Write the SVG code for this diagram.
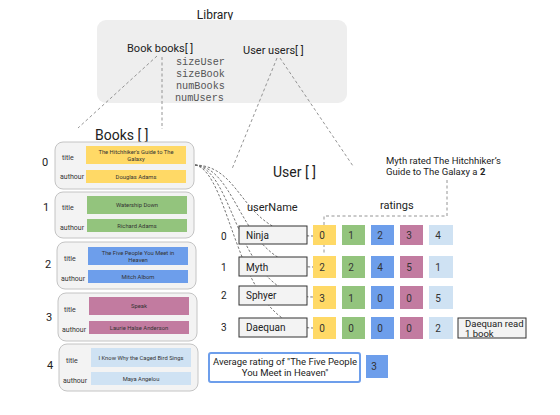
<svg xmlns="http://www.w3.org/2000/svg" width="560" height="415" viewBox="0 0 560 415">
<style>
text{font-family:Roboto,"Liberation Sans",sans-serif;fill:#222}
.t12{font-size:12px}
.t11{font-size:11px}
.t14{font-size:14px}
.t10{font-size:10px}
.t9{font-size:9.5px}
.lab{font-size:7px;fill:#333}
.fld{font-size:5.8px;text-anchor:middle;fill:#333}
.mono{font-family:"Liberation Mono","DejaVu Sans Mono",monospace;font-size:10.2px;fill:#555}
.mid{text-anchor:middle}
.book{fill:#f3f3f3;stroke:#c4c4c4;stroke-width:1}
.name{fill:#f3f3f3;stroke:#333;stroke-width:1}
.y{fill:#ffd966}.g{fill:#93c47d}.b{fill:#6d9eeb}.p{fill:#c27ba0}.lb{fill:#cfe2f3}
.dash{fill:none;stroke:#888;stroke-width:0.9;stroke-dasharray:3,2.5}
.dash2{fill:none;stroke:#666;stroke-width:0.9;stroke-dasharray:2.5,1.8}
.num{font-size:10px;text-anchor:middle;fill:#333}
</style>

<g id="library">
  <text class="t12 mid" x="215" y="19">Library</text>
  <rect x="97" y="20" width="250" height="83" rx="9" fill="#eeeeee"/>
  <text class="t11" x="127" y="52">Book books[ ]</text>
  <text class="t11" x="243" y="54">User users[ ]</text>
  <text class="mono" x="176" y="65">sizeUser</text>
  <text class="mono" x="176" y="77">sizeBook</text>
  <text class="mono" x="176" y="89">numBooks</text>
  <text class="mono" x="175" y="101">numUsers</text>
</g>

<g id="connectors">
  <path class="dash" d="M157,56 L78,128"/>
  <path class="dash" d="M162,57 L162,129"/>
  <path class="dash" d="M277,58 L232,169"/>
  <path class="dash" d="M280,58 L353,166"/>
  <path class="dash" d="M447,180 L447,216 L324,216 L324,255"/>
  <path class="dash2" d="M195,165 C245,166 240,236 313,236"/>
  <path class="dash2" d="M195,165 C240,168 240,267 313,267"/>
  <path class="dash2" d="M195,165 C236,170 236,297 313,297"/>
  <path class="dash2" d="M195,165 C232,172 236,328 313,328"/>
</g>

<g id="books">
  <text class="t14" x="95" y="140">Books [ ]</text>
  <g id="book0">
    <text class="t11" x="42" y="166">0</text>
    <rect class="book" x="55" y="142" width="139" height="47" rx="8"/>
    <text class="lab" x="62" y="160">title</text>
    <text class="lab" x="60" y="179">authour</text>
    <rect class="y" x="86" y="146" width="100" height="18"/>
    <text class="fld" x="136" y="153.5">The Hitchhiker's Guide to The</text>
    <text class="fld" x="136" y="161">Galaxy</text>
    <rect class="y" x="86" y="170" width="100" height="13"/>
    <text class="fld" x="136" y="178.5">Douglas Adams</text>
  </g>
  <g id="book1">
    <text class="t11" x="43" y="211">1</text>
    <rect class="book" x="55" y="192" width="139" height="46" rx="8"/>
    <text class="lab" x="62" y="210">title</text>
    <text class="lab" x="60" y="230">authour</text>
    <rect class="g" x="87" y="196" width="100" height="18"/>
    <text class="fld" x="137" y="207">Watership Down</text>
    <rect class="g" x="87" y="219" width="100" height="13"/>
    <text class="fld" x="137" y="227.5">Richard Adams</text>
  </g>
  <g id="book2">
    <text class="t11" x="45" y="268">2</text>
    <rect class="book" x="57" y="242" width="139" height="47" rx="8"/>
    <text class="lab" x="64" y="261">title</text>
    <text class="lab" x="61" y="281">authour</text>
    <rect class="b" x="88" y="247" width="100" height="18"/>
    <text class="fld" x="138" y="254.5">The Five People You Meet in</text>
    <text class="fld" x="138" y="262">Heaven</text>
    <rect class="b" x="88" y="270" width="100" height="13"/>
    <text class="fld" x="138" y="278.5">Mitch Albom</text>
  </g>
  <g id="book3">
    <text class="t11" x="46" y="321">3</text>
    <rect class="book" x="58" y="293" width="139" height="48" rx="8"/>
    <text class="lab" x="64" y="312">title</text>
    <text class="lab" x="62" y="332">authour</text>
    <rect class="p" x="89" y="297" width="100" height="18"/>
    <text class="fld" x="139" y="308">Speak</text>
    <rect class="p" x="89" y="321" width="100" height="13"/>
    <text class="fld" x="139" y="329.5">Laurie Halse Anderson</text>
  </g>
  <g id="book4">
    <text class="t11" x="47" y="369">4</text>
    <rect class="book" x="59" y="344" width="139" height="47" rx="8"/>
    <text class="lab" x="66" y="363">title</text>
    <text class="lab" x="63" y="383">authour</text>
    <rect class="lb" x="91" y="348" width="100" height="19"/>
    <text class="fld" x="141" y="359.5">I Know Why the Caged Bird Sings</text>
    <rect class="lb" x="91" y="372" width="100" height="13"/>
    <text class="fld" x="141" y="380.5">Maya Angelou</text>
  </g>
</g>

<g id="users">
  <text class="t14" x="273" y="177">User [ ]</text>
  <text class="t11" x="247" y="211">userName</text>
  <text class="t11" x="380" y="209">ratings</text>
  <g id="user0">
    <text class="t10" x="221" y="240">0</text>
    <rect class="name" x="239" y="226" width="68" height="18"/>
    <text class="t10" x="246" y="239">Ninja</text>
  </g>
  <g id="user1">
    <text class="t10" x="221" y="271">1</text>
    <rect class="name" x="239" y="257" width="68" height="19"/>
    <text class="t10" x="246" y="271">Myth</text>
  </g>
  <g id="user2">
    <text class="t10" x="221" y="299">2</text>
    <rect class="name" x="239" y="286" width="68" height="19"/>
    <text class="t10" x="246" y="299">Sphyer</text>
  </g>
  <g id="user3">
    <text class="t10" x="221" y="331">3</text>
    <rect class="name" x="239" y="318" width="68" height="19"/>
    <text class="t10" x="246" y="331">Daequan</text>
  </g>
</g>

<g id="ratings">
  <rect class="y" x="313" y="225" width="23" height="20"/>
  <rect class="g" x="342" y="225" width="23" height="20"/>
  <rect class="b" x="371" y="225" width="23" height="20"/>
  <rect class="p" x="400" y="225" width="23" height="20"/>
  <rect class="lb" x="429" y="225" width="24" height="20"/>
  <text class="num" x="322" y="239">0</text><text class="num" x="351" y="239">1</text><text class="num" x="380" y="239">2</text><text class="num" x="409" y="239">3</text><text class="num" x="438" y="239">4</text>

  <rect class="y" x="313" y="256" width="23" height="22"/>
  <rect class="g" x="342" y="256" width="23" height="22"/>
  <rect class="b" x="371" y="256" width="23" height="22"/>
  <rect class="p" x="400" y="256" width="23" height="22"/>
  <rect class="lb" x="429" y="256" width="24" height="22"/>
  <text class="num" x="322" y="271">2</text><text class="num" x="351" y="271">2</text><text class="num" x="380" y="271">4</text><text class="num" x="409" y="271">5</text><text class="num" x="438" y="271">1</text>

  <rect class="y" x="313" y="286" width="23" height="23"/>
  <rect class="g" x="342" y="286" width="23" height="23"/>
  <rect class="b" x="371" y="286" width="23" height="23"/>
  <rect class="p" x="400" y="286" width="23" height="23"/>
  <rect class="lb" x="429" y="286" width="24" height="23"/>
  <text class="num" x="322" y="302">3</text><text class="num" x="351" y="302">1</text><text class="num" x="380" y="302">0</text><text class="num" x="409" y="302">0</text><text class="num" x="438" y="302">5</text>

  <rect class="y" x="313" y="317" width="23" height="22"/>
  <rect class="g" x="342" y="317" width="23" height="22"/>
  <rect class="b" x="371" y="317" width="23" height="22"/>
  <rect class="p" x="400" y="317" width="23" height="22"/>
  <rect class="lb" x="429" y="317" width="24" height="22"/>
  <text class="num" x="322" y="332">0</text><text class="num" x="351" y="332">0</text><text class="num" x="380" y="332">0</text><text class="num" x="409" y="332">0</text><text class="num" x="438" y="332">2</text>
</g>

<g id="note-myth">
  <text class="t9" x="386" y="164">Myth rated The Hitchhiker’s</text>
  <text class="t9" x="386" y="175">Guide to The Galaxy a <tspan font-weight="bold">2</tspan></text>
</g>

<g id="note-daequan">
  <rect class="name" x="458" y="318" width="68" height="20"/>
  <text class="t9" x="465" y="327">Daequan read</text>
  <text class="t9" x="465" y="337">1 book</text>
</g>

<g id="average">
  <rect x="209" y="353" width="151" height="29" rx="2" fill="#fff" stroke="#6d9eeb" stroke-width="2"/>
  <text class="t9 mid" x="285" y="365">Average rating of "The Five People</text>
  <text class="t9 mid" x="285" y="376">You Meet in Heaven"</text>
  <rect class="b" x="366" y="355" width="22" height="23"/>
  <text class="num" x="374" y="370">3</text>
</g>
</svg>
